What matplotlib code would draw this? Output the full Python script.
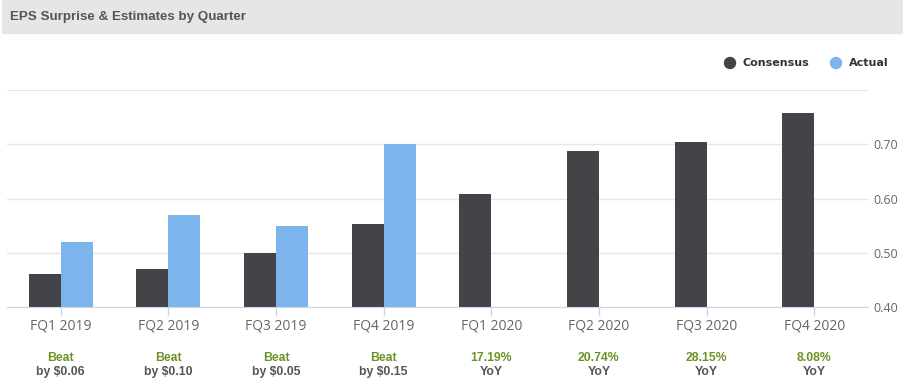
import numpy as np
import matplotlib
matplotlib.use("Agg")
import matplotlib.pyplot as plt
import matplotlib.patches as patches
from matplotlib.transforms import blended_transform_factory

quarters = ["FQ1 2019", "FQ2 2019", "FQ3 2019", "FQ4 2019",
            "FQ1 2020", "FQ2 2020", "FQ3 2020", "FQ4 2020"]
consensus = [0.46, 0.47, 0.50, 0.553, 0.609, 0.688, 0.705, 0.757]
actual = [0.52, 0.57, 0.55, 0.70, None, None, None, None]
note_top = ["Beat", "Beat", "Beat", "Beat", "17.19%", "20.74%", "28.15%", "8.08%"]
note_bottom = ["by $0.06", "by $0.10", "by $0.05", "by $0.15", "YoY", "YoY", "YoY", "YoY"]
yticks = [0.40, 0.50, 0.60, 0.70, 0.80]
ytick_labels = ["0.40", "0.50", "0.60", "0.70", ""]

W, H = 904, 383
fig = plt.figure(figsize=(W / 100, H / 100), dpi=100)

def fx(x):
    return x / W

def fy(y):
    return 1 - y / H

# header band
fig.patches.append(patches.Rectangle((fx(2), fy(33)), fx(902), 33 / H,
                                     transform=fig.transFigure, color="#e6e6e6", zorder=0))
fig.text(fx(10), fy(17), "EPS Surprise & Estimates by Quarter", fontsize=9.6,
         fontweight="bold", color="#555555", family="Liberation Sans", va="center")

# legend
fig.patches.append(patches.Ellipse((fx(730), fy(63)), 11 / W, 11 / H,
                                   transform=fig.transFigure, color="#434348"))
fig.text(fx(743), fy(63), "Consensus", fontsize=8, fontweight="bold",
         color="#333333", va="center")
fig.patches.append(patches.Ellipse((fx(836), fy(63)), 11 / W, 11 / H,
                                   transform=fig.transFigure, color="#7cb5ec"))
fig.text(fx(849), fy(63), "Actual", fontsize=8, fontweight="bold",
         color="#333333", va="center")

ax = fig.add_axes([fx(7), fy(307), (868 - 7) / W, (307 - 90) / H])
x = np.arange(len(quarters))
w = 0.297
ax.bar(x - w / 2, consensus, w, color="#434348", zorder=2)
act_x = [i + w / 2 for i, v in enumerate(actual) if v is not None]
act_v = [v for v in actual if v is not None]
ax.bar(act_x, act_v, w, color="#7cb5ec", zorder=2)

ax.set_xlim(-0.5, len(quarters) - 0.5)
ax.set_ylim(0.40, 0.80)
ax.set_yticks(yticks)
ax.set_yticklabels(ytick_labels)
ax.yaxis.tick_right()
ax.tick_params(axis="y", length=0, pad=4, labelsize=9, labelcolor="#666666")
ax.set_xticks(x)
ax.set_xticklabels(quarters)
ax.tick_params(axis="x", length=6.5, width=1, color="#ccd6eb", pad=2,
               labelsize=10, labelcolor="#666666")
for lab in ax.get_xticklabels() + ax.get_yticklabels():
    lab.set_family("Open Sans")
ax.grid(axis="y", color="#e6e6e6", linewidth=1, zorder=0)
for s in ["top", "left", "right"]:
    ax.spines[s].set_visible(False)
ax.spines["bottom"].set_color("#ccd6eb")
ax.spines["bottom"].set_zorder(3)

tr = blended_transform_factory(ax.transData, fig.transFigure)
for i in range(len(quarters)):
    ax.text(i, fy(358), note_top[i], transform=tr, ha="center", va="center",
            fontsize=8.8, fontweight="bold", color="#6b9323", family="Liberation Sans")
    ax.text(i, fy(372), note_bottom[i], transform=tr, ha="center", va="center",
            fontsize=8.8, fontweight="bold", color="#555555", family="Liberation Sans")

fig.savefig("out.png", dpi=100)
